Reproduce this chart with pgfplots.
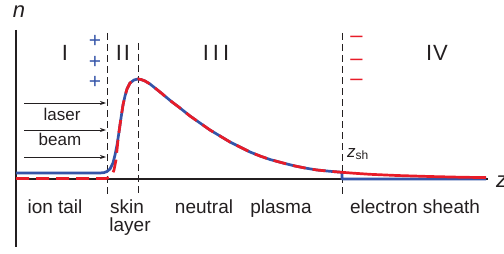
\documentclass[border=0pt]{standalone}
\usepackage{pgfplots}
\pgfplotsset{compat=1.18}
\usetikzlibrary{arrows.meta}
\usepackage{fontspec}
\setmainfont{Liberation Sans}
\definecolor{cblue}{RGB}{52,84,168}
\definecolor{cred}{RGB}{232,28,40}
\definecolor{txt}{RGB}{35,31,32}
\begin{document}
\begin{tikzpicture}
\begin{axis}[scale only axis, width=504bp, height=254bp,
  xmin=0, xmax=504, ymin=0, ymax=254, y dir=reverse,
  hide axis, clip=false]
\coordinate (bl) at (axis cs:0,254);
\coordinate (tr) at (axis cs:504,0);
% axes
\addplot[draw=txt, line width=1.3bp] coordinates {(16,30) (16,247)};
\addplot[draw=txt, line width=1.3bp] coordinates {(16,179) (488,179)};
% dashed boundaries
\addplot[draw=txt, line width=0.9bp, dash pattern=on 7bp off 4bp] coordinates {(107,33) (107,195)};
\addplot[draw=txt, line width=0.9bp, dash pattern=on 7bp off 4bp] coordinates {(138,43) (138,195)};
\addplot[draw=txt, line width=0.9bp, dash pattern=on 7bp off 4bp] coordinates {(342,33) (342,195)};
% arrows
\addplot[draw=txt, line width=0.8bp, -{Stealth[length=6bp,width=4bp]}] coordinates {(24,103) (106,103)};
\addplot[draw=txt, line width=0.8bp, -{Stealth[length=6bp,width=4bp]}] coordinates {(24,130) (106,130)};
\addplot[draw=txt, line width=0.8bp, -{Stealth[length=6bp,width=4bp]}] coordinates {(24,157) (106,157)};
% blue curve
\addplot[draw=cblue, line width=2.7bp, line join=round] coordinates {
(16,173) (100,173) (104,172.6) (107,171.5) (110,169) (113,163) (115,155) (117,145)
(119,132) (121,118) (123,105) (125,96) (127,89) (130,83) (134,80) (138,79)
(141,79.5) (145,81) (150,84) (155,88) (160,92) (166,97) (172,102) (180,108)
(190,116) (200,123) (210,130) (220,136) (230,142) (240,147) (250,152) (260,156)
(270,159.5) (283,163) (295,166) (305,168) (317,170) (330,171.3) (342,172.3)
(342,179) (486,179)};
% red curve dashed
\addplot[draw=cred, line width=2.7bp, dash pattern=on 13bp off 7bp] coordinates {
(16,178.5) (106,178.5) (109,177.5) (112,175) (114,170) (116,160) (118,140)
(119,132) (121,118) (123,105) (125,96) (127,89) (130,83) (134,80) (138,79)
(141,79.5) (145,81) (150,84) (155,88) (160,92) (166,97) (172,102) (180,108)
(190,116) (200,123) (210,130) (220,136) (230,142) (240,147) (250,152) (260,156)
(270,159.5) (283,163) (295,166) (305,168) (317,170) (330,171.3) (342,172.3)};
% red curve solid
\addplot[draw=cred, line width=2.7bp] coordinates {
(342,172.3) (355,173.3) (370,174.3) (397,175.5) (430,176.5) (460,177.2) (486,177.6)};
% text
\begin{scope}[every node/.style={inner sep=0pt, text=txt}]
\node[anchor=base, font=\fontsize{22bp}{24bp}\selectfont\itshape] at (axis cs:19,18) {n};
\node[anchor=base west, font=\fontsize{22bp}{24bp}\selectfont\itshape] at (axis cs:496,187) {z};
\node[anchor=base, font=\fontsize{22bp}{24bp}\selectfont] at (axis cs:65,60) {I};
\node[anchor=base, font=\fontsize{22bp}{24bp}\selectfont] at (axis cs:123,60) {I\hspace{2bp}I};
\node[anchor=base, font=\fontsize{22bp}{24bp}\selectfont] at (axis cs:216,60) {I\hspace{4bp}I\hspace{4bp}I};
\node[anchor=base, font=\fontsize{22bp}{24bp}\selectfont] at (axis cs:437,60) {I\hspace{1bp}V};
\node[anchor=base, font=\fontsize{17bp}{20bp}\selectfont] at (axis cs:62,120) {laser};
\node[anchor=base, font=\fontsize{17bp}{20bp}\selectfont] at (axis cs:60,145) {beam};
\node[anchor=base, font=\fontsize{19bp}{22bp}\selectfont] at (axis cs:55,213) {ion tail};
\node[anchor=base, font=\fontsize{19bp}{22bp}\selectfont] at (axis cs:127,213) {skin};
\node[anchor=base, font=\fontsize{19bp}{22bp}\selectfont] at (axis cs:130,231) {layer};
\node[anchor=base, font=\fontsize{19bp}{22bp}\selectfont] at (axis cs:204,213) {neutral};
\node[anchor=base, font=\fontsize{19bp}{22bp}\selectfont] at (axis cs:281,213) {plasma};
\node[anchor=base, font=\fontsize{19bp}{22bp}\selectfont] at (axis cs:415,213) {electron sheath};
\node[anchor=base west, font=\fontsize{17bp}{20bp}\selectfont] at (axis cs:347,157) {\textit{z}\raisebox{-2.5bp}{\fontsize{12bp}{14bp}\selectfont sh}};
\end{scope}
\begin{scope}[every node/.style={inner sep=0pt, text=cblue, font=\fontsize{21bp}{24bp}\selectfont}]
\node at (axis cs:95,41) {+};
\node at (axis cs:95,62) {+};
\node at (axis cs:95,82) {+};
\end{scope}
\begin{scope}[every node/.style={inner sep=0pt, text=cred, font=\fontsize{22bp}{24bp}\selectfont}]
\node at (axis cs:356.5,39) {–};
\node at (axis cs:356.5,62) {–};
\node at (axis cs:356.5,82) {–};
\end{scope}
\end{axis}
\pgfresetboundingbox
\useasboundingbox (bl) rectangle (tr);
\end{tikzpicture}
\end{document}
